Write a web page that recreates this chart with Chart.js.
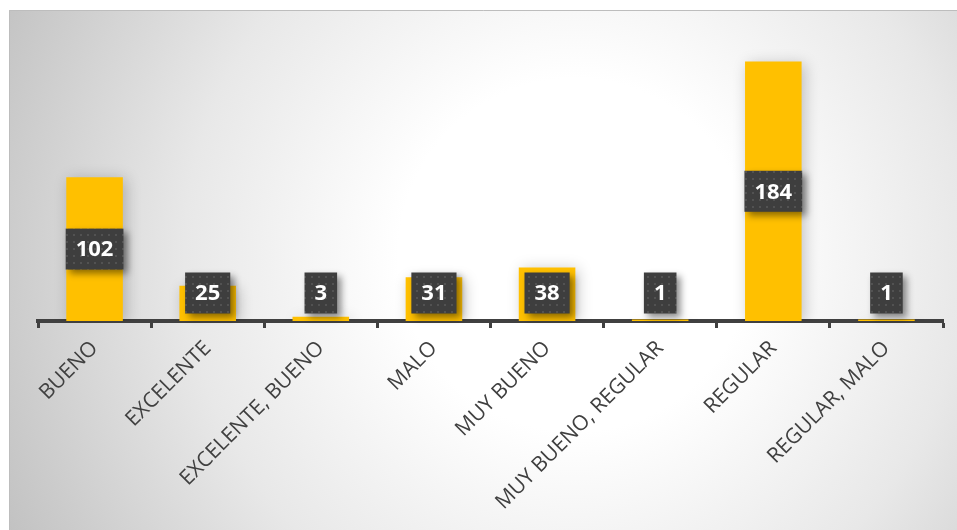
<!DOCTYPE html>
<html>
<head>
<meta charset="utf-8">
<script src="https://cdn.jsdelivr.net/npm/chart.js@4/dist/chart.umd.min.js"></script>
<style>
  html, body { margin: 0; padding: 0; background: #ffffff; }
  #wrap { position: relative; width: 957px; height: 530px; }
  canvas { display: block; }
</style>
</head>
<body>
<div id="wrap"><canvas id="chart" width="957" height="530"></canvas></div>
<script>
// Categories and counts
const categories = [
  'BUENO', 'EXCELENTE', 'EXCELENTE, BUENO', 'MALO',
  'MUY BUENO', 'MUY BUENO, REGULAR', 'REGULAR', 'REGULAR, MALO'
];
const counts = [102, 25, 3, 31, 38, 1, 184, 1];
const axisMax = 200;

// Small dotted texture for the value boxes
function makeDotPattern(ctx) {
  const p = document.createElement('canvas');
  p.width = 7; p.height = 7;
  const pc = p.getContext('2d');
  pc.fillStyle = '#3e3e3e';
  pc.fillRect(0, 0, 7, 7);
  pc.fillStyle = '#525252';
  pc.fillRect(3, 3, 2, 2);
  return ctx.createPattern(p, 'repeat');
}

// Framed panel with a soft radial fill behind the plot
const panelBackground = {
  id: 'panelBackground',
  beforeDraw(chart) {
    const ctx = chart.ctx;
    const x0 = 9, y0 = 10, x1 = chart.width, y1 = chart.height;
    ctx.save();
    const g = ctx.createRadialGradient(575, 255, 0, 575, 255, 630);
    g.addColorStop(0, '#ffffff');
    g.addColorStop(0.28, '#ffffff');
    g.addColorStop(0.62, '#e8e8e8');
    g.addColorStop(1, '#c2c2c2');
    ctx.fillStyle = g;
    ctx.fillRect(x0, y0, x1 - x0, y1 - y0);
    ctx.strokeStyle = '#bdbdbd';
    ctx.lineWidth = 1;
    ctx.beginPath();
    ctx.moveTo(x0 + 0.5, y1);
    ctx.lineTo(x0 + 0.5, y0 + 0.5);
    ctx.lineTo(x1, y0 + 0.5);
    ctx.stroke();
    ctx.restore();
  }
};

// Soft shadow around the bars
const barShadow = {
  id: 'barShadow',
  beforeDatasetDraw(chart) {
    const ctx = chart.ctx;
    ctx.save();
    ctx.shadowColor = 'rgba(0,0,0,0.22)';
    ctx.shadowBlur = 14;
    ctx.shadowOffsetX = 3;
    ctx.shadowOffsetY = 2;
  },
  afterDatasetDraw(chart) {
    chart.ctx.restore();
  }
};

// Dark value boxes centred on each bar
const valueBoxes = {
  id: 'valueBoxes',
  afterDatasetsDraw(chart) {
    const ctx = chart.ctx;
    const meta = chart.getDatasetMeta(0);
    const data = chart.data.datasets[0].data;
    const pattern = makeDotPattern(ctx);
    ctx.save();
    ctx.font = 'bold 22px "Open Sans"';
    meta.data.forEach((bar, i) => {
      const text = String(data[i]);
      const tw = ctx.measureText(text).width;
      const w = tw + 20, h = 41;
      const centre = Math.min((bar.y + bar.base) / 2, bar.base - 28);
      const bx = bar.x - w / 2, by = centre - h / 2;
      ctx.save();
      ctx.shadowColor = 'rgba(0,0,0,0.45)';
      ctx.shadowBlur = 7;
      ctx.shadowOffsetX = 4;
      ctx.shadowOffsetY = 4;
      ctx.fillStyle = pattern;
      ctx.fillRect(bx, by, w, h);
      ctx.restore();
      ctx.fillStyle = '#ffffff';
      ctx.textAlign = 'center';
      ctx.textBaseline = 'middle';
      ctx.fillText(text, bar.x, centre + 1);
    });
    ctx.restore();
  }
};

new Chart(document.getElementById('chart'), {
  type: 'bar',
  data: {
    labels: categories,
    datasets: [{
      data: counts,
      backgroundColor: '#ffc000',
      borderWidth: 0,
      categoryPercentage: 1,
      barPercentage: 0.5
    }]
  },
  options: {
    responsive: false,
    animation: false,
    devicePixelRatio: 1,
    layout: { padding: { left: 38, right: 14, top: 39, bottom: 0 } },
    plugins: { legend: { display: false }, tooltip: { enabled: false } },
    scales: {
      y: { display: false, min: 0, max: axisMax },
      x: {
        afterFit(scale) { scale.height = 209; },
        border: { display: true, color: '#404040', width: 4 },
        grid: {
          display: true, drawOnChartArea: false, drawTicks: true,
          tickLength: 7, tickWidth: 3, tickColor: '#404040', offset: true
        },
        ticks: {
          autoSkip: false, minRotation: 45, maxRotation: 45,
          color: '#404040', padding: 8,
          font: { family: '"Open Sans"', size: 21 }
        }
      }
    }
  },
  plugins: [panelBackground, barShadow, valueBoxes]
});
</script>
</body>
</html>
